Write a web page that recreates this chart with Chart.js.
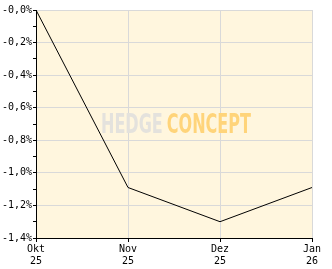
<!DOCTYPE html>
<html><head><meta charset="utf-8">
<script src="https://cdn.jsdelivr.net/npm/chart.js@4.4.1/dist/chart.umd.min.js"></script>
<style>html,body{margin:0;padding:0;background:#fff}#c{display:block}</style>
</head><body>
<canvas id="c" width="332" height="269"></canvas>
<script>
const categories = [["Okt","25"],["Nov","25"],["Dez","25"],["Jan","26"]];
const values = [0, -1.09, -1.3, -1.09];
const yTickLabels = ["-0,0%","-0,2%","-0,4%","-0,6%","-0,8%","-1,0%","-1,2%","-1,4%"];

const bgPlugin = {
  id:'bg',
  beforeDraw(chart){
    const a = chart.chartArea, ctx = chart.ctx;
    ctx.save(); ctx.fillStyle = '#fff6de';
    ctx.fillRect(a.left, a.top, a.right-a.left, a.bottom-a.top);
    ctx.restore();
  },
  beforeDatasetsDraw(chart){
    const a = chart.chartArea, ctx = chart.ctx;
    ctx.save();
    ctx.font = 'bold 26px "DejaVu Sans Condensed"';
    ctx.textBaseline = 'alphabetic';
    const t1 = 'HEDGE', t2 = 'CONCEPT';
    const w1 = ctx.measureText(t1).width, w2 = ctx.measureText(t2).width;
    const target1 = 61, target2 = 85, gap = 4;
    const sx = (target1 + target2) / (w1 + w2);
    const x0 = (a.left + a.right)/2 + 2 - (target1 + gap + target2)/2;
    const base = 133;
    ctx.translate(x0, base);
    ctx.scale(sx, 1);
    ctx.fillStyle = '#e4e2dd'; ctx.fillText(t1, 0, 0);
    ctx.fillStyle = '#ffd47a'; ctx.fillText(t2, w1 + gap/sx, 0);
    ctx.restore();
  }
};

new Chart(document.getElementById('c'), {
  type:'line',
  data:{ labels: categories, datasets:[{ data: values, borderColor:'#000', borderWidth:1, pointRadius:0, tension:0, fill:false }]},
  options:{
    responsive:false, animation:false,
    layout:{ padding:{ top:10, right:20, left:0, bottom:0 } },
    plugins:{ legend:{display:false}, tooltip:{enabled:false} },
    scales:{
      x:{
        type:'category', offset:false,
        afterFit(s){ s.height = 31; },
        grid:{ color:'#d9d9d9', tickColor:'#000', tickLength:4, lineWidth:1 },
        border:{ color:'#000', width:1 },
        ticks:{ color:'#000', font:{ family:'"DejaVu Sans Mono"', size:10 }, padding:1, maxRotation:0, autoSkip:false }
      },
      y:{
        min:-1.4, max:0,
        afterFit(s){ s.width = 36; },
        afterBuildTicks(s){ const t=[]; for(let i=0;i<=14;i++){ t.push({value: -i/10}); } s.ticks = t; },
        grid:{
          color(ctx){ const i = ctx.index; return (i % 2 === 0) ? '#d9d9d9' : 'rgba(0,0,0,0)'; },
          tickColor:'#000', tickLength:3, lineWidth:1
        },
        border:{ color:'#000', width:1 },
        ticks:{
          color:'#000', font:{ family:'"DejaVu Sans Mono"', size:10 }, padding:1, autoSkip:false,
          callback(v, i){ return (i % 2 === 0) ? yTickLabels[i/2] : ''; }
        }
      }
    }
  },
  plugins:[bgPlugin]
});
</script>
</body></html>
